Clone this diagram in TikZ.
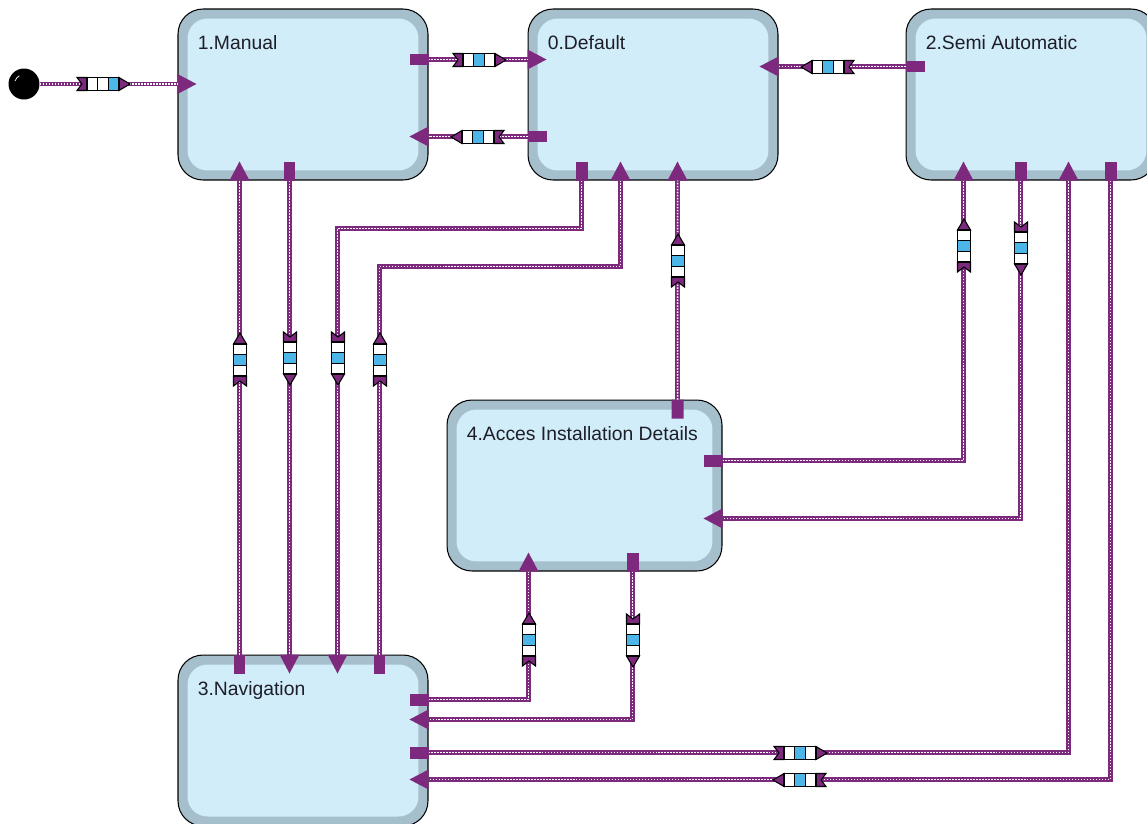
\documentclass[tikz,border=0pt]{standalone}
\usepackage{fontspec}
\setmainfont{Liberation Sans}
\usetikzlibrary{arrows.meta,positioning,calc}
\definecolor{purple1}{HTML}{7D2A7E}
\definecolor{edge1}{HTML}{A5C0CC}
\definecolor{fill1}{HTML}{D0EDF9}
\definecolor{blue1}{HTML}{4DB6E8}
\definecolor{ink}{HTML}{1E1E28}

\tikzset{
  state/.style={draw=black, line width=0.6pt, fill=edge1, rounded corners=0.5cm,
    minimum width=5cm, minimum height=3.42cm, inner sep=0pt,
    path picture={\fill[fill1, rounded corners=0.4cm]
      ([shift={(0.19cm,-0.19cm)}]path picture bounding box.north west) rectangle
      ([shift={(-0.19cm,0.19cm)}]path picture bounding box.south east);}},
  statename/.style={anchor=base west, inner sep=0pt, text=ink, shift={(20,41)}},
  >={Triangle[length=0.38cm,width=0.4cm,line width=0pt]},
  trans/.style={draw=purple1, line width=2.6pt,
    {Rectangle[length=0.38cm,width=0.24cm,line width=0pt]}->,
    postaction={draw=white, line width=0.85pt, dash pattern=on 0.85pt off 0.85pt, -,
      shorten <=#1, shorten >=0.38cm}},
  trans/.default=0.38cm,
  pics/trmark/.style={code={
    \draw[fill=purple1, line width=0.6pt] (-26,-6.5) -- (-16,-6.5) -- (-16,6.5) -- (-26,6.5) -- (-21,0) -- cycle;
    \draw[fill=purple1, line width=0.6pt] (16,-6.5) -- (27,0) -- (16,6.5) -- cycle;
    \foreach \c [count=\i] in {#1}
      \draw[fill=\c, line width=0.6pt] (-26.67+\i*10.67,-6.5) rectangle ++(10.67,13);
  }}
}

\begin{document}
\begin{tikzpicture}[x=0.02cm,y=-0.02cm,font=\fontsize{11}{13}\selectfont]
  \useasboundingbox[fill=white] (0,0) rectangle (1147,823);
  \clip (0,0) rectangle (1147,823);
  % states
  \node[state, label={[statename]north west:1.Manual}] (manual) at (303,94.5) {};
  \node[state, label={[statename]north west:0.Default}] (default) at (653,94.5) {};
  \node[state, label={[statename]north west:2.Semi Automatic}] (semi) at (1031,94.5) {};
  \node[state, minimum width=5.5cm, label={[statename]north west:4.Acces Installation Details}] (access) at (584.5,485.5) {};
  \node[state, label={[statename]north west:3.Navigation}] (navig) at (303,740.5) {};
  % initial
  \node[circle, fill=black, minimum size=0.62cm, inner sep=0pt] (init) at (24,84) {};
  \draw[white!85!black, line width=0.5pt] ([shift={(-9,-3)}]init.center) arc[start angle=160, end angle=120, radius=0.2cm];
  % transitions
  \draw[trans=0pt, ->] (init) -- ($(manual.west |- init)+(19,0)$);
  \draw[trans] ($(manual.north east)+(-19,51)$) -- ($(default.north west)+(19,51)$);
  \draw[trans] ($(default.north west)+(19,128)$) -- ($(manual.north east)+(-19,128)$);
  \draw[trans] ($(semi.north west)+(19,58)$) -- ($(default.north east)+(-19,58)$);
  \draw[trans] ($(navig.north west)+(62,19)$) -- ($(manual.south west)+(62,-19)$);
  \draw[trans] ($(manual.south west)+(112,-19)$) -- ($(navig.north west)+(112,19)$);
  \draw[trans] ($(default.south west)+(54,-19)$) -- ++(0,67) -| ($(navig.north west)+(160,19)$);
  \draw[trans] ($(navig.north west)+(202,19)$) -- ++(0,-407) -| ($(default.south west)+(93,-19)$);
  \draw[trans] ($(access.north west)+(231,19)$) -- ($(default.south west)+(150,-19)$);
  \draw[trans] ($(access.north east)+(-19,61)$) -| ($(semi.south west)+(58,-19)$);
  \draw[trans] ($(semi.south west)+(115,-19)$) |- ($(access.north east)+(-19,119)$);
  \draw[trans] ($(navig.north east)+(-19,45)$) -| ($(access.south west)+(82,-19)$);
  \draw[trans] ($(access.south west)+(186,-19)$) |- ($(navig.north east)+(-19,65)$);
  \draw[trans] ($(navig.north east)+(-19,98)$) -| ($(semi.south west)+(163,-19)$);
  \draw[trans] ($(semi.south west)+(205,-19)$) |- ($(navig.north east)+(-19,125)$);
  % markers
  \pic at (103,84) {trmark={white,white,blue1}};
  \foreach \x/\y/\r in {479/60/0, 478/137/180, 828/67/180, 240/360/90, 290/358/-90,
      338/358/-90, 380/360/90, 678/261/90, 964/246/90, 1021/248/-90,
      529/640/90, 633/640/-90, 800/753/0, 800/780/180}
    \pic[rotate=\r] at (\x,\y) {trmark={white,blue1,white}};
\end{tikzpicture}
\end{document}
